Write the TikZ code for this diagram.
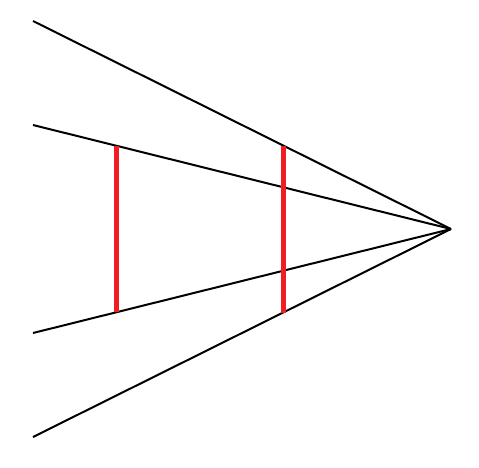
\documentclass[tikz,border=0pt]{standalone}
\begin{document}
\begin{tikzpicture}[x=1pt,y=-1pt,
  ray/.style={line width=2pt,black},
  bar/.style={line width=5pt,draw={rgb,255:red,240;green,30;blue,35}}]
\useasboundingbox[fill=white] (0,0) rectangle (479,467);
\coordinate (apex) at (451,229);
\coordinate (r1) at (33,21);
\coordinate (r2) at (33,125);
\coordinate (r3) at (33,333);
\coordinate (r4) at (33,437);
\draw[ray] (r1) -- (apex);
\draw[ray] (r2) -- (apex);
\draw[ray] (r3) -- (apex);
\draw[ray] (r4) -- (apex);
\coordinate (a1) at (116,146);
\coordinate (a2) at (116,312);
\coordinate (b1) at (283,146);
\coordinate (b2) at (283,313);
\draw[bar] (a1) -- (a2);
\draw[bar] (b1) -- (b2);
\end{tikzpicture}
\end{document}
